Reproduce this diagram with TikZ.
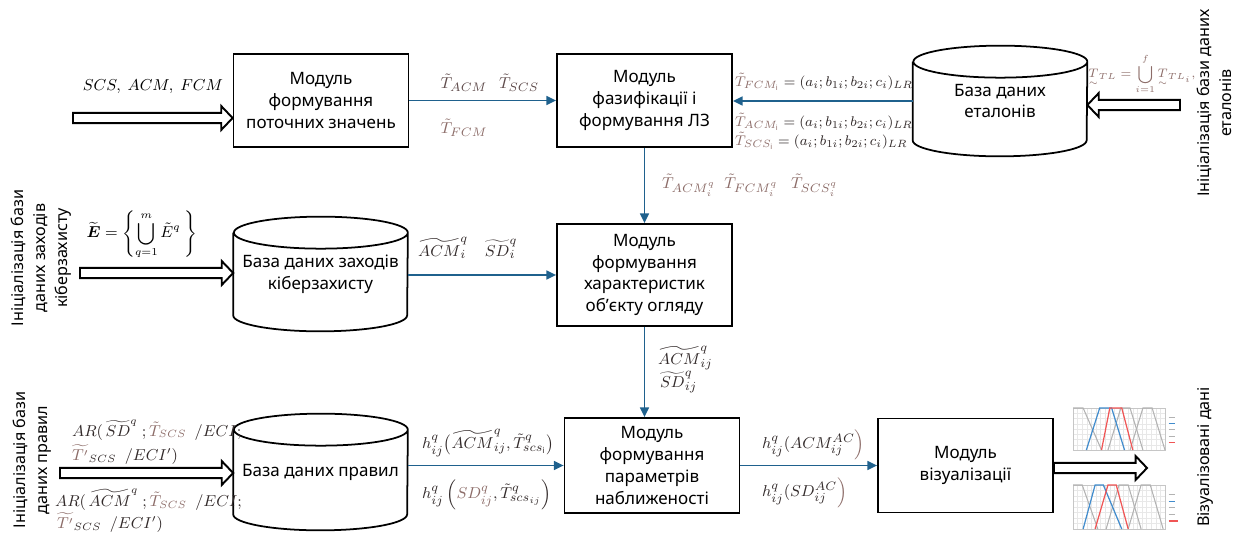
\documentclass[tikz,border=0pt]{standalone}
\usepackage{amsmath,amssymb}
\usepackage{fontspec}
\setmainfont{Noto Sans}
\usetikzlibrary{arrows.meta,calc,positioning}

\definecolor{FlowBlue}{RGB}{31,97,141}
\definecolor{LabelDark}{RGB}{50,42,42}
\definecolor{LabelMid}{RGB}{95,75,75}
\definecolor{LabelBrown}{RGB}{140,108,104}
\definecolor{ChartBlue}{RGB}{65,140,205}
\definecolor{ChartRed}{RGB}{240,85,85}

\newcommand{\modfont}{\fontsize{9.7}{12.4}\selectfont}
\newcommand{\sidefont}{\fontsize{9.2}{12.4}\selectfont}
\newcommand{\dbry}{0.32cm}

% cylinder outline round a named node
\newcommand{\DrawBase}[1]{%
  \draw[dbline] ([yshift=-\dbry]#1.north west) -- ([yshift=\dbry]#1.south west)
    arc[start angle=180, end angle=360, x radius=1.74cm, y radius=\dbry]
    -- ([yshift=-\dbry]#1.north east)
    arc[start angle=0, end angle=360, x radius=1.74cm, y radius=\dbry];}

% hollow block arrow from a free end to a node
\newcommand{\HollowArrow}[2]{%
  \draw[hollow] let \p1=(#1), \p2=(#2), \n1={sign(\x2-\x1)} in
    (\x1,\y1+2.9pt) -- ({\x2-\n1*6.5pt},\y1+2.9pt) -- ({\x2-\n1*6.5pt},\y1+6.8pt)
    -- (\x2,\y1) -- ({\x2-\n1*6.5pt},\y1-6.8pt) -- ({\x2-\n1*6.5pt},\y1-2.9pt)
    -- (\x1,\y1-2.9pt) -- cycle;}

\tikzset{
  module/.style={draw, line width=1pt, minimum width=3.5cm, minimum height=1.86cm, align=center, font=\modfont},
  dbnode/.style={minimum width=3.48cm, align=center, font=\modfont, inner sep=0pt},
  dbline/.style={line width=1pt},
  flow/.style={FlowBlue, line width=1.05pt, -{Triangle[length=5.5pt,width=5pt]}},
  hollow/.style={draw=black, fill=white, line width=1.1pt, line join=miter},
  lbl/.style={font=\fontsize{9.5}{11}\selectfont, text=LabelDark, inner sep=1pt},
  eqlbl/.style={lbl, font=\fontsize{8.4}{10}\selectfont, anchor=west},
  vlabel/.style={rotate=90, align=center, font=\sidefont},
  gridline/.style={gray!18, line width=0.2pt},
  mfgray/.style={gray!60, line width=0.6pt},
  mfblue/.style={ChartBlue, line width=0.7pt},
  mfred/.style={ChartRed, line width=0.7pt}
}

\begin{document}
\begin{tikzpicture}[x=0.02cm, y=0.02cm]
  \useasboundingbox (0,0) rectangle (1243,-536);

  % Top row
  \node[module] (box1) at (321,-100.5) {Модуль\\формування\\поточних значень};
  \node[module] (box2) at (644.5,-100.5) {Модуль\\фазифікації і\\формування ЛЗ};
  \node[dbnode, minimum height=2.2cm] (etDB) at (1000,-101) {База даних\\еталонів};
  \DrawBase{etDB}

  \coordinate (inCur) at (73,-118);
  \coordinate (inEt) at (1180,-105);
  \HollowArrow{inCur}{box1.west |- inCur}
  \HollowArrow{inEt}{etDB.east |- inEt}

  \node[lbl, text=black, font=\fontsize{9}{11}\selectfont] (curLbl) at (153,-87) {$SCS,\ ACM,\ FCM$};
  \node[lbl, text=LabelMid] (tACM) at (464,-83) {$\tilde{T}_{ACM}$};
  \node[lbl, text=LabelMid] (tSCS) at (519,-83) {$\tilde{T}_{SCS}$};
  \node[lbl, text=LabelBrown] (tFCM) at (464,-128) {$\tilde{T}_{FCM}$};

  \node[eqlbl] (fFCM) at (733,-82) {$\textcolor{LabelBrown}{\tilde{T}_{FCM_{\mathrm{i}}}} = (a_i;b_{1i};b_{2i};c_i)_{LR}$};
  \node[eqlbl] (fACM) at (733,-122) {$\textcolor{LabelBrown}{\tilde{T}_{ACM_{\mathrm{i}}}} = (a_i;b_{1i};b_{2i};c_i)_{LR}$};
  \node[eqlbl] (fSCS) at (733,-141) {$\textcolor{LabelBrown}{\tilde{T}_{SCS_{\mathrm{i}}}} = (a_i;b_{1i};b_{2i};c_i)_{LR}$};
  \node[lbl, text=LabelBrown, font=\fontsize{7}{8}\selectfont] (fTL) at (1142,-74) {$\displaystyle \underset{\sim}{T}{}_{TL} = \bigcup_{i=1}^{f} \underset{\sim}{T}{}_{TL_i},$};

  \node[vlabel] (vEt) at (1214,-103) {Ініціалізація бази даних\\еталонів};

  \draw[flow] (box1) -- (box2);
  \draw[flow] (etDB.west) -- (etDB.west -| box2.east);

  % Middle row
  \node[dbnode, minimum height=2.28cm] (cyDB) at (320.5,-274) {База даних заходів\\кіберзахисту};
  \DrawBase{cyDB}
  \node[module, minimum height=2.04cm] (box3) at (644.5,-275) {Модуль\\формування\\характеристик\\об'єкту огляду};

  \coordinate (inCy) at (80,-273);
  \HollowArrow{inCy}{cyDB.west |- inCy}

  \node[lbl, text=black, font=\fontsize{8.8}{10}\selectfont] (fE) at (142,-235) {$\displaystyle \widetilde{\boldsymbol{E}} = \left\{ \bigcup_{q=1}^{m} \tilde{E}^{q}\ \right\}$};
  \node[vlabel] (vCy) at (41,-258) {Ініціалізація бази\\даних заходів\\кіберзахисту};

  \node[lbl, text=LabelBrown, anchor=west] (tMid) at (660,-185) {$\tilde{T}_{ACM_i^q}\ \ \tilde{T}_{FCM_i^q}\ \ \ \tilde{T}_{SCS_i^q}$};
  \node[lbl, anchor=west] (cyLbl) at (416,-248) {$\widetilde{ACM}_i^q\quad \widetilde{SD}_i^q$};
  \node[lbl, anchor=west] (acmIJ) at (656,-358) {$\widetilde{ACM}_{ij}^q$};
  \node[lbl, anchor=west] (sdIJ) at (658,-382) {$\widetilde{SD}_{ij}^q$};

  \draw[flow] (box2.south) -- (box3.north);
  \draw[flow] (cyDB.east |- box3.west) -- (box3.west);

  % Bottom row
  \node[dbnode, minimum height=2.32cm] (ruDB) at (320.5,-472) {База даних правил};
  \DrawBase{ruDB}
  \node[module, minimum height=1.9cm] (box4) at (652,-465.5) {Модуль\\формування\\параметрів\\наближеності};
  \node[module, minimum height=1.88cm] (box5) at (965.5,-465.5) {Модуль\\візуалізації};

  \coordinate (inRu) at (60,-473);
  \coordinate (visOut) at (1147,-468);
  \HollowArrow{inRu}{ruDB.west |- inRu}
  \HollowArrow{box5.east |- visOut}{visOut}

  \node[vlabel] (vRu) at (32,-460) {Ініціалізація бази\\даних правил};
  \node[vlabel] (vVis) at (1205,-457) {Візуалізовані дані};

  \node[lbl, anchor=west, font=\fontsize{9}{11}\selectfont] (ar1) at (70,-430) {$AR(\,\widetilde{SD}^{q}\ ;\textcolor{LabelBrown}{\tilde{T}_{SCS}}\ \ /ECI;$};
  \node[lbl, anchor=west, font=\fontsize{9}{11}\selectfont] (ar2) at (70,-455) {$\textcolor{LabelBrown}{\widetilde{T'}}_{SCS}\ \ /ECI')$};
  \node[lbl, anchor=west, font=\fontsize{9}{11}\selectfont] (ar3) at (53,-500) {$AR(\,\widetilde{ACM}^{q}\ ;\textcolor{LabelBrown}{\tilde{T}_{SCS}}\ \ /ECI;$};
  \node[lbl, anchor=west, font=\fontsize{9}{11}\selectfont] (ar4) at (55,-523) {$\textcolor{LabelBrown}{\widetilde{T'}}_{SCS}\ \ /ECI')$};

  \node[lbl, anchor=west] (h1) at (420,-443) {$h_{ij}^{q}\big(\widetilde{ACM}_{ij}^{q}, \tilde{T}_{scs_{\mathrm{i}}}^{q}\big)$};
  \node[lbl, anchor=west] (h2) at (420,-495) {$h_{ij}^{q}\left(\textcolor{LabelBrown}{SD_{ij}^{q}}, \tilde{T}_{scs_{ij}}^{q}\right)$};
  \node[lbl, anchor=west] (v1) at (760,-445) {$h_{ij}^{q}(ACM^{AC}_{ij}\textcolor{LabelBrown}{\Big)}$};
  \node[lbl, anchor=west] (v2) at (760,-493) {$h_{ij}^{q}(SD^{AC}_{ij}\textcolor{LabelBrown}{\Big)}$};

  \draw[flow] (box3.south) -- (box3.south |- box4.north);
  \draw[flow] (ruDB.east |- box4.west) -- (box4.west);
  \draw[flow] (box4) -- (box5);

  % Charts
  \begin{scope}[shift={(1073,-450)}, x=1.84cm, y=0.84cm]
    \draw[gridline] (0,0) grid[xstep=0.05, ystep=0.125] (1,1);
    \draw[gray!45, line width=0.3pt] (0,0) rectangle (1,1);
    \draw[mfgray] (0,1) -- (0.11,1) -- (0.31,0);
    \draw[mfgray] (0.38,0) -- (0.52,1) -- (0.62,1) -- (0.76,0);
    \draw[mfgray] (0.62,0) -- (0.76,1) -- (0.86,1) -- (1,0);
    \draw[mfblue] (0.145,0) -- (0.29,1) -- (0.42,1) -- (0.56,0);
    \draw[mfred] (0.31,0) -- (0.40,1) -- (0.53,1) -- (0.65,0);
    \draw[mfgray] (1.04,0.78) -- (1.11,0.78);
    \draw[mfblue] (1.04,0.63) -- (1.11,0.63);
    \draw[mfgray] (1.04,0.48) -- (1.11,0.48);
    \draw[mfgray] (1.04,0.33) -- (1.11,0.33);
    \draw[mfred] (1.04,0.18) -- (1.11,0.18);
  \end{scope}
  \begin{scope}[shift={(1073,-529)}, x=1.84cm, y=0.88cm]
    \draw[gridline] (0,0) grid[xstep=0.05, ystep=0.125] (1,1);
    \draw[gray!45, line width=0.3pt] (0,0) rectangle (1,1);
    \draw[mfgray] (0,1) -- (0.1,1) -- (0.27,0);
    \draw[mfgray] (0.36,0) -- (0.5,1) -- (0.6,1) -- (0.74,0);
    \draw[mfgray] (0.6,0) -- (0.74,1) -- (0.84,1) -- (0.98,0);
    \draw[mfblue] (0.11,0) -- (0.24,1) -- (0.33,1) -- (0.53,0);
    \draw[mfred] (0.24,0) -- (0.38,1) -- (0.47,1) -- (0.60,0);
    \draw[mfgray] (1.04,0.78) -- (1.11,0.78);
    \draw[mfblue] (1.04,0.63) -- (1.11,0.63);
    \draw[mfgray] (1.04,0.48) -- (1.11,0.48);
    \draw[mfgray] (1.04,0.33) -- (1.11,0.33);
    \draw[mfred] (1.04,0.18) -- (1.14,0.18);
  \end{scope}
\end{tikzpicture}
\end{document}
